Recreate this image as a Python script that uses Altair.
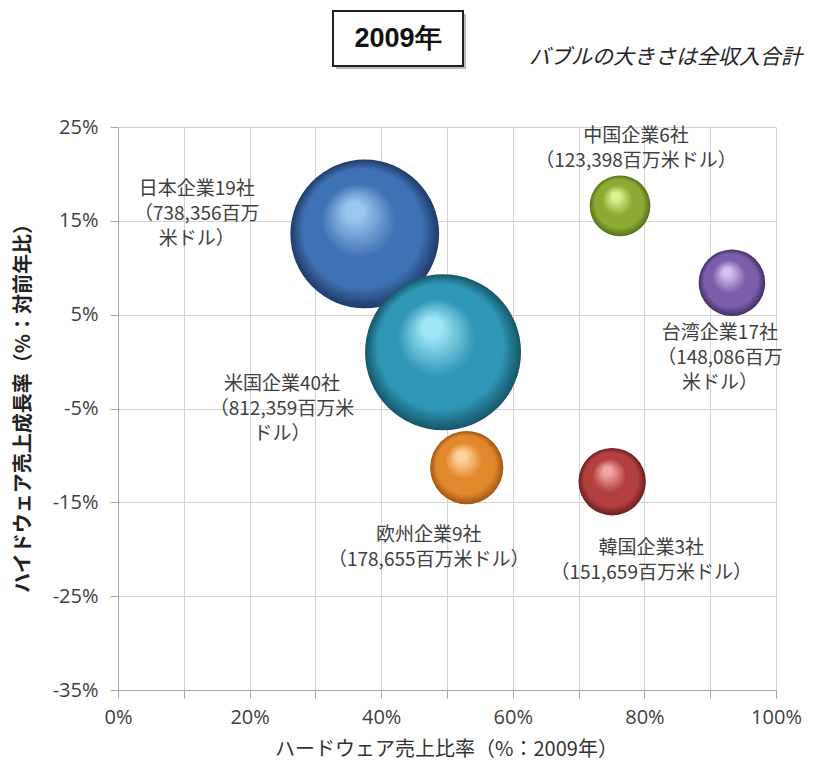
import altair as alt
import pandas as pd

# ---- data ----
names = ["日本", "米国", "中国", "台湾", "欧州", "韓国"]
hw_ratio = [0.375, 0.494, 0.763, 0.933, 0.530, 0.751]       # x: hardware sales ratio
growth = [0.136, 0.010, 0.166, 0.084, -0.113, -0.128]       # y: growth rate
revenue = [738356, 812359, 123398, 148086, 178655, 151659]  # bubble size (million USD)
labels = [
    "日本企業19社\n（738,356百万\n米ドル）",
    "米国企業40社\n（812,359百万米\nドル）",
    "中国企業6社\n（123,398百万米ドル）",
    "台湾企業17社\n（148,086百万\n米ドル）",
    "欧州企業9社\n（178,655百万米ドル）",
    "韓国企業3社\n（151,659百万米ドル）",
]
x_ticks = [0.0, 0.1, 0.2, 0.3, 0.4, 0.5, 0.6, 0.7, 0.8, 0.9, 1.0]
y_ticks = [-0.35, -0.25, -0.15, -0.05, 0.05, 0.15, 0.25]

# ---- styling ----
# (highlight, base, rim) colours for the shaded spheres
sphere_colors = [
    ("#9cc6ee", "#3f72b4", "#1f3a68"),
    ("#9fe6f7", "#2e97b5", "#165569"),
    ("#dcf38e", "#8daa34", "#53701a"),
    ("#d3c0ee", "#7c5da9", "#412d68"),
    ("#ffd49c", "#e2882c", "#a05510"),
    ("#f2a6a6", "#b33f3f", "#6a1e1e"),
]
# label offsets (dx, dy) relative to bubble centre, in pixels
label_offsets = [(-168, -54), (-161, 23), (16, -79), (-12, 41), (-38, 58), (39, 57)]

W, H = 658, 563
FONT = "Noto Sans CJK JP"
NUM_FONT = "Open Sans"

df = pd.DataFrame({
    "name": names, "x": hw_ratio, "y": growth, "revenue": revenue, "label": labels
})

xs = alt.Scale(domain=[0, 1], nice=False, zero=False)
ys = alt.Scale(domain=[-0.35, 0.25], nice=False, zero=False)
ss = alt.Scale(domain=[0, 812359], range=[0, 24336], zero=True)

x_enc = alt.X("x:Q", scale=xs, axis=alt.Axis(
    values=x_ticks,
    labelExpr="round(datum.value*100) % 20 == 0 ? format(datum.value, '.0%') : ''",
    labelFlush=False,
    title="ハードウェア売上比率（%：2009年）",
    titleFont=FONT, titleFontSize=20, titleFontWeight="normal", titleColor="#333333",
    titleX=W / 2 - 1, titleY=59, titleAlign="center", titleBaseline="middle",
    labelFont=NUM_FONT, labelFontSize=20, labelColor="#404040", labelPadding=9,
    tickSize=8, tickColor="#a6a6a6", domainColor="#a6a6a6",
    grid=True, gridColor="#d3d3d3", gridWidth=1,
))
y_enc = alt.Y("y:Q", scale=ys, axis=alt.Axis(
    values=y_ticks,
    labelExpr="replace(format(datum.value, '.0%'), '\u2212', '-')",
    labelFlush=False,
    title="ハイドウェア売上成長率（%：対前年比）",
    titleFont=FONT, titleFontSize=20, titleFontWeight="bold", titleColor="#222222",
    titleX=-95, titleY=276, titleAngle=270, titleAlign="center", titleBaseline="middle",
    labelFont=NUM_FONT, labelFontSize=20, labelColor="#404040", labelPadding=12,
    tickSize=8, tickColor="#a6a6a6", domainColor="#a6a6a6",
    grid=True, gridColor="#d3d3d3", gridWidth=1,
))

base = alt.Chart(df)

layers = []
for i, nm in enumerate(names):
    hi, mid, rim = sphere_colors[i]
    grad = {
        "gradient": "radial",
        "x1": 0.42, "y1": 0.32, "r1": 0.0,
        "x2": 0.5, "y2": 0.5, "r2": 0.5,
        "stops": [
            {"offset": 0.0, "color": hi},
            {"offset": 0.12, "color": hi},
            {"offset": 0.5, "color": mid},
            {"offset": 0.8, "color": mid},
            {"offset": 1.0, "color": rim},
        ],
    }
    layers.append(
        base.transform_filter(alt.datum.name == nm)
        .mark_circle(fill=grad, opacity=1)
        .encode(x=x_enc, y=y_enc,
                size=alt.Size("revenue:Q", scale=ss, legend=None))
    )

for i, nm in enumerate(names):
    dx, dy = label_offsets[i]
    layers.append(
        base.transform_filter(alt.datum.name == nm)
        .mark_text(font=FONT, fontSize=19, color="#404040", align="center",
                   baseline="top", lineBreak="\n", lineHeight=25, dx=dx, dy=dy)
        .encode(x="x:Q", y="y:Q", text="label:N")
    )

deco = alt.Chart(pd.DataFrame({"t": ["2009年"]}))
shadow = deco.mark_rect(fill="#bbbbbb").encode(
    x=alt.value(218), x2=alt.value(348), y=alt.value(-113), y2=alt.value(-58))
box = deco.mark_rect(fill="white", stroke="#222222", strokeWidth=2).encode(
    x=alt.value(215), x2=alt.value(345), y=alt.value(-116), y2=alt.value(-61))
box_text = deco.mark_text(font="Liberation Sans", fontSize=27, fontWeight="bold",
                          color="#111111", align="center", baseline="middle").encode(
    x=alt.value(280), y=alt.value(-88), text="t:N")
subtitle = alt.Chart(pd.DataFrame({"t": ["バブルの大きさは全収入合計"]})).mark_text(
    font=FONT, fontSize=21, fontStyle="italic", color="#222222",
    align="right", baseline="middle").encode(
    x=alt.value(684), y=alt.value(-69), text="t:N")

chart = alt.layer(*layers, shadow, box, box_text, subtitle).properties(
    width=W, height=H,
    autosize=alt.AutoSizeParams(type="none"),
    padding={"left": 110, "top": 119, "right": 29, "bottom": 71},
    background="white",
).configure_view(stroke=None)

chart.save("out.html", embed_options={"renderer": "svg", "actions": False})
